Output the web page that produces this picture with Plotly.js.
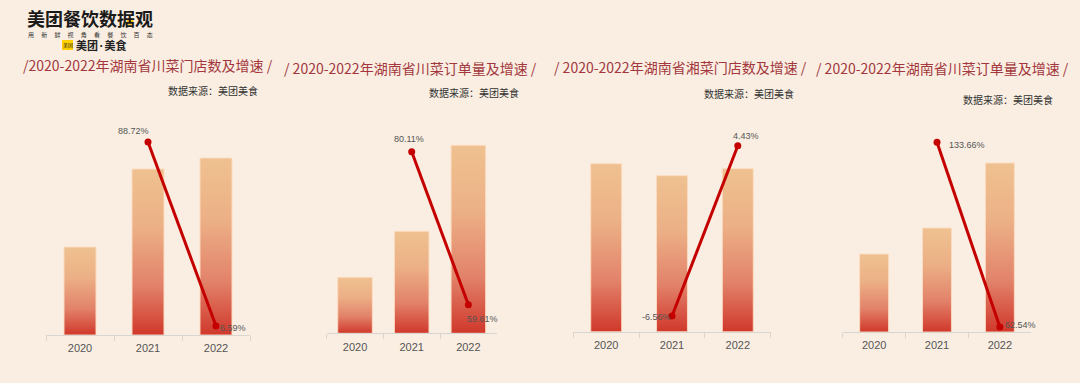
<!DOCTYPE html>
<html>
<head>
<meta charset="utf-8">
<script src="https://cdn.plot.ly/plotly-3.0.1.min.js"></script>
<style>
  html, body { margin:0; padding:0; background:#FAEEE2; }
  #chart { width:1080px; height:383px; }
</style>
</head>
<body>
<div id="chart"></div>
<script>
// ---------- data ----------
const years = ['2020', '2021', '2022'];
const growthYears = ['2021', '2022'];

// 川菜门店数 (relative bar heights)
const scStores = [88, 166, 177];
const scStoreGrowth = [88.72, 6.59];
// 川菜订单量
const scOrders = [56, 102, 188];
const scOrderGrowth = [80.11, 59.61];
// 湘菜门店数
const xcStores = [168, 156, 163];
const xcStoreGrowth = [-6.56, 4.43];
// 湘菜订单量 (titled 川菜订单量 in the original)
const xcOrders = [78, 104, 169];
const xcOrderGrowth = [133.66, 62.54];

const titles = [
  '/2020-2022年湖南省川菜门店数及增速 /',
  '/ 2020-2022年湖南省川菜订单量及增速 /',
  '/ 2020-2022年湖南省湘菜门店数及增速 /',
  '/ 2020-2022年湖南省川菜订单量及增速 /'
];
const sourceText = '数据来源：美团美食';
const logoTitle = '美团餐饮数据观';
const logoSlogan = '用\u3000\u2009新\u3000\u2009鲜\u3000\u2009视\u3000\u2009角\u3000\u2009看\u3000\u2009餐\u3000\u2009饮\u3000\u2009百\u3000\u2009态';
const logoBrand = '美团·美食';

const barSeries = [scStores, scOrders, xcStores, xcOrders];
const growthSeries = [scStoreGrowth, scOrderGrowth, xcStoreGrowth, xcOrderGrowth];

// ---------- layout geometry (pixels) ----------
const W = 1080, H = 383;
const panels = [
  {x0:46,    x1:250,    base:335,   bw:0.47, lr:[2.57, 107.47],
   lab:[{xa:'center',dx:-15,dy:11},{xa:'left',dx:2,dy:-2}],
   title:{x:147.5,y:65}, src:{x:213,y:91}},
  {x0:326.7, x1:496.7,  base:333.3, bw:0.61, lr:[55.78, 87.04],
   lab:[{xa:'center',dx:-3,dy:13},{xa:'left',dx:-3,dy:-14}],
   title:{x:410.5,y:68}, src:{x:473.5,y:92.7}},
  {x0:573.3, x1:770.7,  base:331.7, bw:0.47, lr:[-7.573, 7.38],
   lab:[{xa:'right',dx:1,dy:-1},{xa:'center',dx:8,dy:10}],
   title:{x:680,y:67}, src:{x:748.5,y:93.3}},
  {x0:842.7, x1:1031.3, base:332,   bw:0.46, lr:[60.61, 149.95],
   lab:[{xa:'left',dx:10,dy:-3},{xa:'left',dx:3,dy:2}],
   title:{x:942.5,y:68}, src:{x:1007.5,y:99.3}}
];
const TOP = 100;
const px = v => v / W;
const py = v => 1 - v / H;

const traces = [];
const layout = {
  width: W, height: H,
  margin: {l:0, r:0, t:0, b:0},
  paper_bgcolor: '#FAEEE2',
  plot_bgcolor: 'rgba(0,0,0,0)',
  showlegend: false,
  font: {family: '"Liberation Sans", Arial, sans-serif', color: '#555'},
  annotations: [],
  shapes: []
};

panels.forEach((p, i) => {
  const xa = 'x' + (i + 1);
  const yb = 'y' + (2 * i + 1);
  const yl = 'y' + (2 * i + 2);
  const xKey = 'xaxis' + (i === 0 ? '' : i + 1);
  const ybKey = 'yaxis' + (2 * i + 1 === 1 ? '' : 2 * i + 1);
  const ylKey = 'yaxis' + (2 * i + 2);

  layout[xKey] = {
    domain: [px(p.x0), px(p.x1)],
    anchor: yb,
    type: 'category',
    range: [-0.5, 2.5],
    showline: true, linecolor: '#D9D6D2', linewidth: 1,
    ticks: 'outside', tickson: 'boundaries', ticklen: 5, tickcolor: '#D9D6D2',
    ticklabelstandoff: 3,
    showgrid: false, zeroline: false,
    tickfont: {size: 11, color: '#555', family: '"Liberation Sans", Arial, sans-serif'},
    fixedrange: true
  };
  layout[ybKey] = {
    domain: [py(p.base), py(TOP)],
    anchor: xa,
    range: [0, p.base - TOP],
    visible: false, showgrid: false, zeroline: false, fixedrange: true
  };
  layout[ylKey] = {
    overlaying: yb,
    anchor: xa,
    side: 'right',
    range: p.lr,
    visible: false, showgrid: false, zeroline: false, fixedrange: true
  };

  traces.push({
    type: 'bar', x: years, y: barSeries[i],
    xaxis: xa, yaxis: yb, width: p.bw,
    marker: {color: '#E49A78', line: {color: 'rgba(252,220,192,0.9)', width: 1}},
    hoverinfo: 'skip'
  });
  traces.push({
    type: 'scatter', mode: 'lines+markers',
    x: growthYears, y: growthSeries[i],
    xaxis: xa, yaxis: yl,
    line: {color: '#C40000', width: 3},
    marker: {color: '#C40000', size: 7},
    cliponaxis: false, hoverinfo: 'skip'
  });

  growthSeries[i].forEach((v, j) => {
    layout.annotations.push({
      xref: xa, yref: yl, x: years.indexOf(growthYears[j]), y: v,
      text: v.toFixed(2) + '%', showarrow: false,
      xanchor: p.lab[j].xa, yanchor: 'middle',
      xshift: p.lab[j].dx, yshift: p.lab[j].dy,
      font: {size: 9, color: '#555', family: '"Liberation Sans", Arial, sans-serif'}
    });
  });

  layout.annotations.push({
    xref: 'paper', yref: 'paper', x: px(p.title.x), y: py(p.title.y),
    xanchor: 'center', yanchor: 'middle', showarrow: false,
    text: titles[i],
    font: {size: 14, color: '#A3373D', family: '"Noto Sans CJK SC", "Noto Sans", sans-serif'}
  });
  layout.annotations.push({
    xref: 'paper', yref: 'paper', x: px(p.src.x), y: py(p.src.y),
    xanchor: 'center', yanchor: 'middle', showarrow: false,
    text: sourceText,
    font: {size: 10, color: '#333', family: '"Noto Sans CJK SC", sans-serif'}
  });
});

// ---------- logo ----------
layout.annotations.push({
  xref: 'paper', yref: 'paper', x: px(90), y: py(18),
  xanchor: 'center', yanchor: 'middle', showarrow: false, borderpad: 0,
  text: '<b>' + logoTitle + '</b>',
  font: {size: 18, color: '#1A1A1A', family: '"Noto Sans CJK SC", sans-serif'}
});
layout.annotations.push({
  xref: 'paper', yref: 'paper', x: px(90.5), y: py(34),
  xanchor: 'center', yanchor: 'middle', showarrow: false, borderpad: 0,
  text: logoSlogan, font: {size: 6, color: '#333', family: '"Noto Sans CJK SC", sans-serif'}
});
layout.shapes.push({
  type: 'rect', xref: 'paper', yref: 'paper',
  x0: px(62), x1: px(73), y0: py(50), y1: py(40),
  fillcolor: '#FFD100', line: {width: 0}
});
layout.annotations.push({
  xref: 'paper', yref: 'paper', x: px(67.5), y: py(45),
  xanchor: 'center', yanchor: 'middle', showarrow: false, borderpad: 0,
  text: '美团', font: {size: 5, color: '#222', family: '"Noto Sans CJK SC", sans-serif'}
});
layout.annotations.push({
  xref: 'paper', yref: 'paper', x: px(74.5), y: py(45),
  xanchor: 'left', yanchor: 'middle', showarrow: false, borderpad: 0,
  text: '<b>' + logoBrand + '</b>',
  font: {size: 11, color: '#222', family: '"Noto Sans CJK JP", "Noto Sans CJK SC", sans-serif'}
});
layout.shapes.push({
  type: 'circle', xref: 'paper', yref: 'paper',
  x0: px(126.5), x1: px(133.5), y0: py(25), y1: py(18),
  fillcolor: '#FFC20E', line: {width: 0}
});
layout.shapes.push({
  type: 'circle', xref: 'paper', yref: 'paper',
  x0: px(129.1), x1: px(130.9), y0: py(22.4), y1: py(20.6),
  fillcolor: '#1A1A1A', line: {width: 0}
});

Plotly.newPlot('chart', traces, layout, {displayModeBar: false, staticPlot: true}).then(gd => {
  const ns = 'http://www.w3.org/2000/svg';
  const svg = gd.querySelector('.main-svg');
  let defs = svg.querySelector('defs');
  if (!defs) { defs = document.createElementNS(ns, 'defs'); svg.insertBefore(defs, svg.firstChild); }
  const grad = document.createElementNS(ns, 'linearGradient');
  grad.setAttribute('id', 'barGrad');
  grad.setAttribute('x1', '0'); grad.setAttribute('y1', '0');
  grad.setAttribute('x2', '0'); grad.setAttribute('y2', '1');
  [[0, '#EFC190'], [0.35, '#ECB086'], [0.7, '#E2826A'], [1, '#D0382B']].forEach(s => {
    const st = document.createElementNS(ns, 'stop');
    st.setAttribute('offset', s[0]);
    st.setAttribute('stop-color', s[1]);
    grad.appendChild(st);
  });
  defs.appendChild(grad);
  gd.querySelectorAll('.barlayer .bars .point path').forEach(pth => {
    pth.style.fill = 'url(#barGrad)';
  });
});
</script>
</body>
</html>
